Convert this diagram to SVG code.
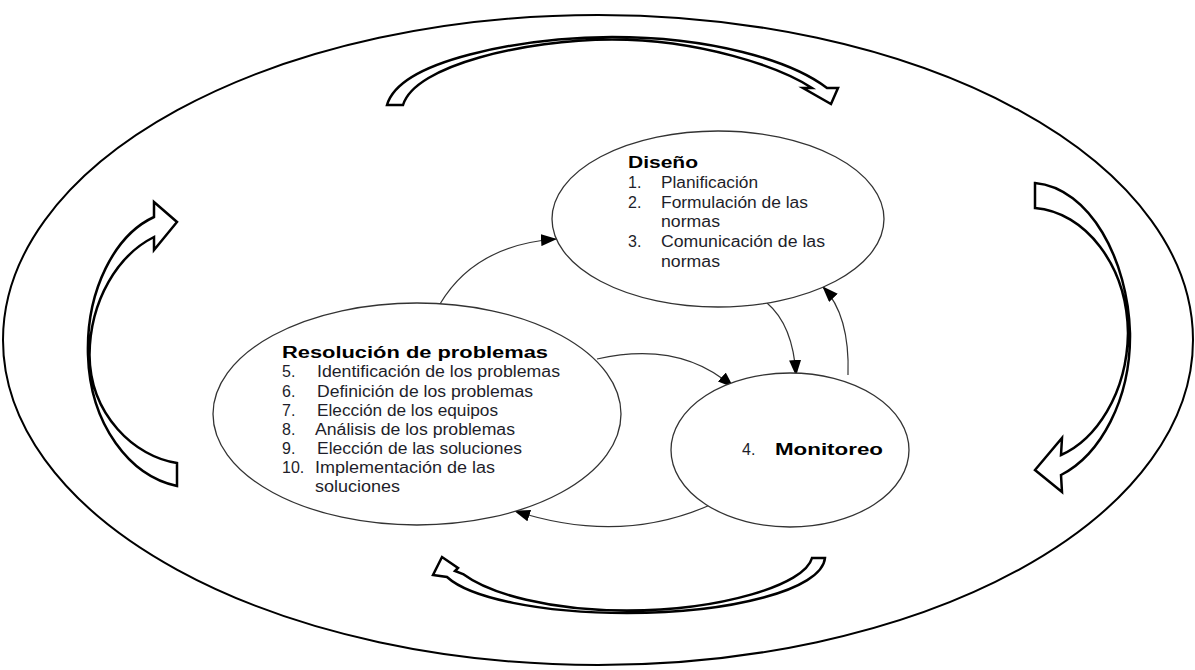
<svg xmlns="http://www.w3.org/2000/svg" width="1195" height="670" viewBox="0 0 1195 670">
<defs>
<style>
.outer{fill:none;stroke:#000;stroke-width:2}
.blk{fill:#fff;stroke:#000;stroke-width:2.5;stroke-linejoin:miter}
.node{fill:#fff;stroke:#333;stroke-width:1.3}
.conn{fill:none;stroke:#333;stroke-width:1.2}
.t{font-family:"Liberation Sans",Arial,sans-serif;font-size:16px;fill:#1e1e2a}
.h{font-family:"Liberation Sans",Arial,sans-serif;font-size:16px;font-weight:bold;fill:#000}
</style>
<marker id="ah" markerUnits="userSpaceOnUse" markerWidth="16" markerHeight="12" refX="15" refY="6" orient="auto">
<path d="M0,0 L16,6 L0,12 Z" fill="#000"/>
</marker>
</defs>
<rect width="1195" height="670" fill="#fff"/>
<g id="frame">
<ellipse class="outer" cx="598" cy="340" rx="595" ry="325"/>
</g>
<g id="cycle-arrows">
<path id="arrow-top" class="blk" d="M387,105 C400,60 520,38 612,37 C710,37 790,60 827,88 L838,88 L831,104 L803,88 L812,88 C780,67 700,39.5 612,39.5 C525,40 415,65 403,105 Z"/>
<path id="arrow-right" class="blk" d="M1035,183 C1090,188 1128,260 1130,333 C1131,400 1100,455 1061,475 L1062,492 L1035,470 L1062,438 L1061,455 C1095,440 1127,395 1128,333 C1127,265 1085,212 1035,208 Z"/>
<path id="arrow-bottom" class="blk" d="M825,558 C822,590 730,613 627,613 C540,613 470,598 447,577 L433,575 L442,557 L458,568 L455,571 L463,574 C490,594 550,610.5 627,610.5 C720,610.5 805,585 812,558 Z"/>
<path id="arrow-left" class="blk" d="M177,486 C130,476 90,425 88,355 C86,290 115,235 154,217 L154,202 L177,222 L154,250 L154,237 C118,255 90,300 89.5,355 C90,415 135,457 177,463 Z"/>
</g>
<g id="connectors">
<path class="conn" d="M440,304 Q475,245 556,239" marker-end="url(#ah)"/>
<path class="conn" d="M597,359 Q680,340 733,387" marker-end="url(#ah)"/>
<path class="conn" d="M710,505 Q620,545 515,511" marker-end="url(#ah)"/>
<path class="conn" d="M767,303 Q793,325 796,375" marker-end="url(#ah)"/>
<path class="conn" d="M848,375 Q850,315 823,287" marker-end="url(#ah)"/>
</g>
<g id="node-diseno">
<ellipse class="node" cx="718" cy="219" rx="166" ry="88"/>
<text class="h" x="628" y="168" textLength="70" lengthAdjust="spacingAndGlyphs">Diseño</text>
<text class="t" x="628" y="188">1.</text>
<text class="t" x="661" y="188" textLength="97" lengthAdjust="spacingAndGlyphs">Planificación</text>
<text class="t" x="628" y="208">2.</text>
<text class="t" x="661" y="208" textLength="147" lengthAdjust="spacingAndGlyphs">Formulación de las</text>
<text class="t" x="661" y="227" textLength="59" lengthAdjust="spacingAndGlyphs">normas</text>
<text class="t" x="628" y="247">3.</text>
<text class="t" x="661" y="247" textLength="164" lengthAdjust="spacingAndGlyphs">Comunicación de las</text>
<text class="t" x="661" y="267" textLength="59" lengthAdjust="spacingAndGlyphs">normas</text>
</g>
<g id="node-resolucion">
<ellipse class="node" cx="417" cy="414" rx="204" ry="111"/>
<text class="h" x="282" y="358" textLength="266" lengthAdjust="spacingAndGlyphs">Resolución de problemas</text>
<text class="t" x="282" y="377">5.</text>
<text class="t" x="317" y="377" textLength="243" lengthAdjust="spacingAndGlyphs">Identificación de los problemas</text>
<text class="t" x="282" y="397">6.</text>
<text class="t" x="317" y="397" textLength="216" lengthAdjust="spacingAndGlyphs">Definición de los problemas</text>
<text class="t" x="282" y="416">7.</text>
<text class="t" x="317" y="416" textLength="181" lengthAdjust="spacingAndGlyphs">Elección de los equipos</text>
<text class="t" x="282" y="435">8.</text>
<text class="t" x="315" y="435" textLength="200" lengthAdjust="spacingAndGlyphs">Análisis de los problemas</text>
<text class="t" x="282" y="454">9.</text>
<text class="t" x="317" y="454" textLength="205" lengthAdjust="spacingAndGlyphs">Elección de las soluciones</text>
<text class="t" x="282" y="473">10.</text>
<text class="t" x="315" y="473" textLength="180" lengthAdjust="spacingAndGlyphs">Implementación de las</text>
<text class="t" x="315" y="492" textLength="85" lengthAdjust="spacingAndGlyphs">soluciones</text>
</g>
<g id="node-monitoreo">
<ellipse class="node" cx="790" cy="450" rx="119" ry="77"/>
<text class="t" x="742" y="455">4.</text>
<text class="h" x="775" y="455" textLength="108" lengthAdjust="spacingAndGlyphs">Monitoreo</text>
</g>
</svg>
